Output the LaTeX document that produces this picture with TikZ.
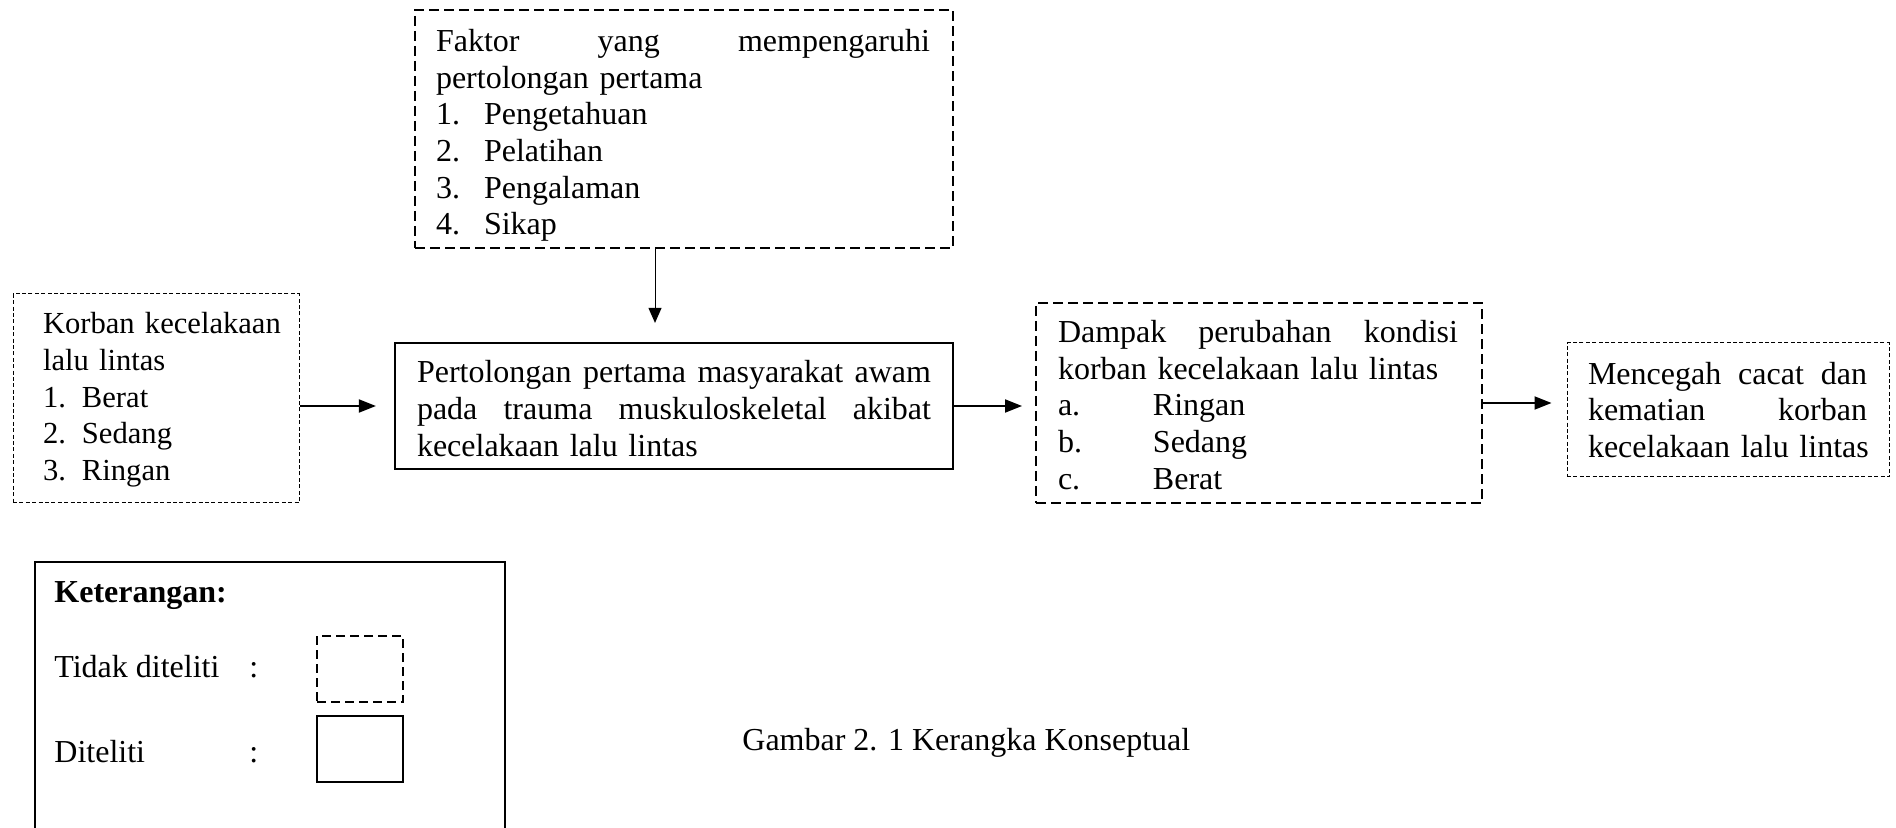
\documentclass[tikz,border=0pt]{standalone}
\usepackage{fontspec}
\setmainfont{Liberation Serif}
\usetikzlibrary{arrows.meta}
\newcommand\jl[2]{\makebox[#1][l]{#2}}
\newcommand\itm[2]{\makebox[#1][l]{#2}}
\begin{document}
\begin{tikzpicture}[x=0.5pt,y=-0.5pt,
  txt/.style={font=\fontsize{16}{18.3}\selectfont, align=left, inner ysep=0pt},
  smalltxt/.style={font=\fontsize{15.3}{18.3}\selectfont, align=left, inner ysep=0pt},
  plain/.style={font=\fontsize{16}{18.3}\selectfont, inner sep=0pt, anchor=base west},
  thickdash/.style={draw, line width=1pt, dash pattern=on 5pt off 2.5pt},
  thindash/.style={draw, line width=0.5pt, dash pattern=on 2pt off 1.2pt},
  solidbox/.style={draw, line width=1.1pt},
  legdash/.style={draw, line width=1pt, dash pattern=on 4.5pt off 2.5pt},
  legsolid/.style={draw, line width=1pt},
  legline/.style={draw, line width=0.6pt},
  arr/.style={line width=1pt, -{Triangle[length=8.5pt,width=6.5pt]}},
  arrthin/.style={line width=0.5pt, -{Triangle[length=7.5pt,width=6.5pt]}}
]
\useasboundingbox (0,0) rectangle (1896,828);

% top box
\node[txt, thickdash, minimum width=269pt, minimum height=119pt,
      inner xsep=10.5pt, text width=248pt] (faktor) at (684,129)
  {\rule{0pt}{17.7pt}\jl{247pt}{Faktor\hfill yang\hfill mempengaruhi}\\
   \mbox{pertolongan pertama}\\
   \itm{24pt}{1.}Pengetahuan\\
   \itm{24pt}{2.}Pelatihan\\
   \itm{24pt}{3.}Pengalaman\\
   \itm{24pt}{4.}Sikap};

% left box
\node[smalltxt, thindash, minimum width=143pt, minimum height=104.5pt,
      inner xsep=15pt, text width=113pt] (korban) at (156,398.5)
  {\rule{0pt}{12pt}\mbox{Korban kecelakaan}\\
   \mbox{lalu lintas}\\
   \itm{19.5pt}{1.}Berat\\
   \itm{19.5pt}{2.}Sedang\\
   \itm{19.5pt}{3.}Ringan};

% main box
\node[txt, solidbox, minimum width=279pt, minimum height=63pt,
      inner xsep=11pt, text width=257pt] (main) at (674,406)
  {\rule{0pt}{13.6pt}\jl{257pt}{Pertolongan\hfill pertama\hfill masyarakat\hfill awam}\\
   \jl{257pt}{pada\hfill trauma\hfill muskuloskeletal\hfill akibat}\\
   \mbox{kecelakaan lalu lintas}};

% dampak box
\node[txt, thickdash, minimum width=223pt, minimum height=100pt,
      inner xsep=11pt, text width=201pt] (dampak) at (1259,403)
  {\rule{0pt}{13.2pt}\jl{200pt}{Dampak\hfill perubahan\hfill kondisi}\\
   \mbox{korban kecelakaan lalu lintas}\\
   \itm{47.5pt}{a.}Ringan\\
   \itm{47.5pt}{b.}Sedang\\
   \itm{47.5pt}{c.}Berat};

% mencegah box
\node[txt, thindash, minimum width=161pt, minimum height=67pt,
      inner xsep=10.5pt, text width=140pt] (mencegah) at (1728,410)
  {\jl{139.5pt}{Mencegah\hfill cacat\hfill dan}\\
   \jl{139.5pt}{kematian\hfill korban}\\
   \mbox{kecelakaan lalu lintas}};

% connectors
\coordinate (dropx) at (655,0);
\draw[arrthin, shorten >=9.5pt] (faktor.south -| dropx) -- (main.north -| dropx);
\draw[arr, shorten >=9pt] (korban.east |- main.west) -- (main.west);
\draw[arr, shorten >=6.5pt] (main.east) -- (main.east -| dampak.west);
\draw[arr, shorten >=7.5pt] (dampak.east) -- (dampak.east -| mencegah.west);

% legend
\draw[legline] (35,832) -- (35,562) -- (505,562) -- (505,832);
\node[plain] (ket) at (54,603) {\textbf{Keterangan:}};
\node[plain] (tidak) at (54,677) {Tidak diteliti};
\node[plain] (colA) at (249,677) {:};
\node[plain] (dit) at (54,762) {Diteliti};
\node[plain] (colB) at (249,762) {:};
\node[legdash, minimum width=43pt, minimum height=33pt, inner sep=0pt] (ldash) at (360,669) {};
\node[legsolid, minimum width=43pt, minimum height=33pt, inner sep=0pt] (lsolid) at (360,749) {};

% caption
\node[plain] (cap) at (742,750) {Gambar 2. 1 Kerangka Konseptual};
\end{tikzpicture}
\end{document}
